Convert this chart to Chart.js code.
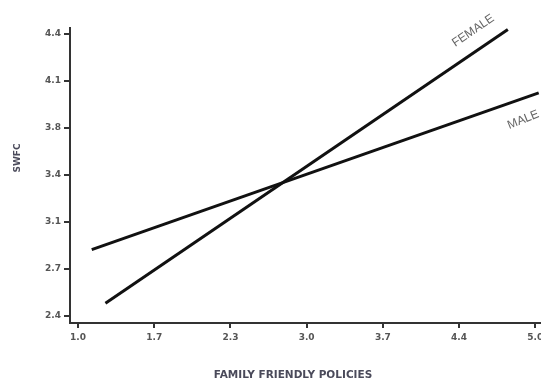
<!DOCTYPE html>
<html>
<head>
<meta charset="utf-8">
<script src="https://cdn.jsdelivr.net/npm/chart.js@4/dist/chart.umd.min.js"></script>
<style>
  html, body { margin: 0; padding: 0; background: #fff; }
  #wrap { width: 541px; height: 383px; }
</style>
</head>
<body>
<div id="wrap"><canvas id="chart" width="541" height="383"></canvas></div>
<script>
// tick labels as printed in the figure (evenly spaced on each axis)
const xTickLabels = ['1.0', '1.7', '2.3', '3.0', '3.7', '4.4', '5.0'];
const yTickLabels = ['2.4', '2.7', '3.1', '3.4', '3.8', '4.1', '4.4'];

// simple slopes (end points of each line)
const maleX = [1.12, 5.03];
const maleY = [2.87, 3.98];
const femaleX = [1.24, 4.76];
const femaleY = [2.49, 4.43];

const toPoints = (xs, ys) => xs.map((x, i) => ({ x: x, y: ys[i] }));

function evenTicks(labels) {
    const lo = parseFloat(labels[0]);
    const hi = parseFloat(labels[labels.length - 1]);
    return labels.map((l, i) => ({ value: lo + i * (hi - lo) / (labels.length - 1), label: l }));
}

const tickFont = { family: 'DejaVu Sans', size: 9, weight: 'bold' };

// axis titles + gray line labels
const textLayer = {
    id: 'textLayer',
    afterDatasetsDraw(chart) {
        const { ctx, scales: { x, y } } = chart;
        ctx.save();
        ctx.textAlign = 'center';
        ctx.textBaseline = 'middle';

        ctx.fillStyle = '#4a4a5a';
        ctx.font = 'bold 10.5px "DejaVu Sans"';
        ctx.fillText('FAMILY FRIENDLY POLICIES', 293, 375);
        ctx.save();
        ctx.translate(18, 158);
        ctx.rotate(-Math.PI / 2);
        ctx.font = 'bold 9px "DejaVu Sans"';
        ctx.fillText('SWFC', 0, 0);
        ctx.restore();

        ctx.fillStyle = '#666';
        ctx.font = '12px "Liberation Sans"';
        [['FEMALE', 4.457, 4.42, -34], ['MALE', 4.895, 3.79, -22]].forEach(([t, dx, dy, a]) => {
            ctx.save();
            ctx.translate(x.getPixelForValue(dx), y.getPixelForValue(dy));
            ctx.rotate(a * Math.PI / 180);
            ctx.fillText(t, 0, 0);
            ctx.restore();
        });
        ctx.restore();
    }
};

new Chart(document.getElementById('chart').getContext('2d'), {
    type: 'line',
    data: {
        datasets: [
            { label: 'MALE', data: toPoints(maleX, maleY), borderColor: '#111', borderWidth: 3, pointRadius: 0, fill: false },
            { label: 'FEMALE', data: toPoints(femaleX, femaleY), borderColor: '#111', borderWidth: 3, pointRadius: 0, fill: false }
        ]
    },
    options: {
        responsive: false,
        animation: false,
        layout: { padding: { top: 28, right: 0, left: 0, bottom: 0 } },
        plugins: { legend: { display: false }, tooltip: { enabled: false } },
        scales: {
            x: {
                type: 'linear',
                min: 0.93, max: 5.05,
                afterBuildTicks: s => { s.ticks = evenTicks(xTickLabels); },
                afterFit: s => { s.height = 60; s.paddingRight = 0; s.paddingLeft = 0; },
                ticks: { font: tickFont, color: '#555', padding: 4, maxRotation: 0, callback: (v, i, t) => t[i].label },
                grid: { drawOnChartArea: false, drawTicks: true, tickLength: 5, color: '#333', lineWidth: 2 },
                border: { display: true, color: '#333', width: 2 }
            },
            y: {
                type: 'linear',
                min: 2.35, max: 4.44,
                afterBuildTicks: s => { s.ticks = evenTicks(yTickLabels); },
                afterFit: s => { s.width = 70; },
                ticks: { font: tickFont, color: '#555', padding: 3, callback: (v, i, t) => t[i].label },
                grid: { drawOnChartArea: false, drawTicks: true, tickLength: 6, color: '#333', lineWidth: 2 },
                border: { display: true, color: '#333', width: 2 }
            }
        }
    },
    plugins: [textLayer]
});
</script>
</body>
</html>
